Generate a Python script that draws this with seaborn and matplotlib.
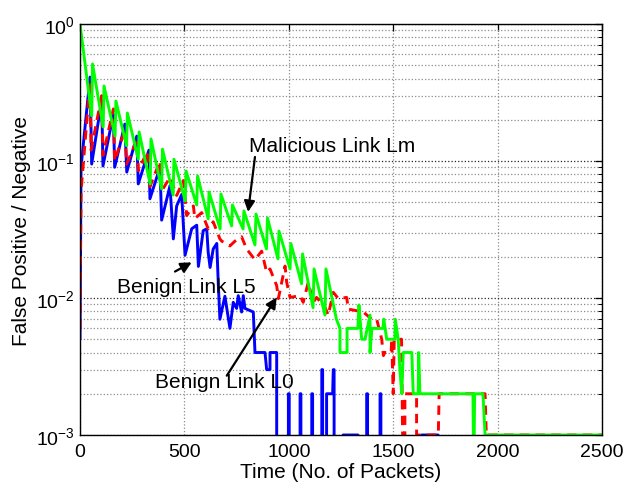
import matplotlib
matplotlib.use("Agg")
import matplotlib.pyplot as plt
import seaborn as sns
import pandas as pd
import numpy as np

# ---------------- data ----------------
# Malicious link Lm (green)
green_x = [0, 56, 60, 111, 115, 168, 172, 223, 227, 279,
           283, 336, 340, 391, 395, 446, 450, 504, 508, 559,
           563, 614, 618, 671, 675, 726, 730, 781, 785, 838,
           843, 893, 898, 948, 953, 1006, 1010, 1061, 1066, 1116,
           1121, 1173, 1178, 1228, 1245, 1245, 1279, 1279, 1331, 1336,
           1349, 1365, 1389, 1389, 1398, 1451, 1455, 1469, 1508, 1510,
           1524, 1532, 1541, 1548, 1589, 1596, 1620, 1622, 1628, 1882,
           1884, 1888, 1890, 1930, 1940, 2500]
green_y = [1.0, 0.213, 0.511, 0.177, 0.353, 0.152, 0.274, 0.129, 0.224, 0.103,
           0.163, 0.068, 0.145, 0.0625, 0.122, 0.0565, 0.103, 0.0511, 0.0845, 0.0478,
           0.0778, 0.0378, 0.0594, 0.0319, 0.0574, 0.0336, 0.0478, 0.0319, 0.0432, 0.0244,
           0.041, 0.0228, 0.0384, 0.0193, 0.0308, 0.0163, 0.025, 0.0127, 0.021, 0.0085,
           0.0163, 0.0075, 0.0163, 0.007, 0.006, 0.004, 0.004, 0.006, 0.006, 0.0089,
           0.005, 0.005, 0.0075, 0.004, 0.006, 0.006, 0.007, 0.005, 0.005, 0.007,
           0.005, 0.003, 0.002, 0.004, 0.004, 0.002, 0.002, 0.004, 0.002, 0.002,
           0.001, 0.001, 0.002, 0.002, 0.001, 0.001]

# Benign link L0 (red, dashed)
red_x = [0, 5, 48, 53, 104, 110, 160, 166, 215, 223,
         272, 280, 322, 335, 383, 390, 431, 463, 495, 511,
         543, 550, 583, 614, 638, 670, 679, 718, 742, 774,
         798, 838, 870, 894, 910, 942, 950, 982, 990, 1006,
         1054, 1069, 1093, 1117, 1133, 1173, 1189, 1213, 1237, 1277,
         1285, 1357, 1397, 1421, 1445, 1453, 1460, 1490, 1493, 1500,
         1505, 1540, 1545, 1556, 1556, 1612, 1612, 1716, 1720, 1940,
         1946, 2500]
red_y = [0.006, 0.06, 0.38, 0.12, 0.30, 0.11, 0.24, 0.10, 0.17, 0.095,
         0.14, 0.085, 0.118, 0.065, 0.100, 0.060, 0.076, 0.056, 0.072, 0.040,
         0.047, 0.038, 0.042, 0.032, 0.036, 0.027, 0.026, 0.024, 0.026, 0.028,
         0.0228, 0.019, 0.022, 0.0154, 0.0163, 0.0123, 0.0099, 0.0171, 0.013, 0.0101,
         0.0104, 0.0093, 0.013, 0.0093, 0.0101, 0.0086, 0.0075, 0.011, 0.0099, 0.0101,
         0.0083, 0.0079, 0.007, 0.007, 0.005, 0.0038, 0.004, 0.004, 0.005, 0.002,
         0.005, 0.005, 0.001, 0.001, 0.002, 0.002, 0.001, 0.001, 0.002, 0.002,
         0.001, 0.001]

# Benign link L5 (blue)
blue_x = [0, 5, 48, 56, 104, 110, 160, 166, 215, 224,
          272, 279, 330, 335, 383, 391, 431, 447, 463, 487,
          503, 535, 559, 567, 590, 607, 614, 623, 638, 655,
          662, 670, 694, 718, 734, 750, 758, 774, 782, 790,
          830, 838, 886, 894, 910, 910, 942, 944, 998, 998,
          1002, 1002, 1054, 1054, 1058, 1058, 1110, 1110, 1114, 1114,
          1158, 1158, 1162, 1162, 1181, 1181, 1210, 1213, 1217, 1217,
          1260, 1260, 1331, 1331, 1373, 1373, 1377, 1377, 1437, 1437,
          1441, 1441, 1636, 1636, 1715, 1715, 2500]
blue_y = [0.005, 0.09, 0.41, 0.095, 0.28, 0.092, 0.22, 0.09, 0.186, 0.083,
          0.152, 0.068, 0.12, 0.053, 0.09, 0.037, 0.066, 0.027, 0.047, 0.057,
          0.0205, 0.032, 0.034, 0.017, 0.031, 0.032, 0.0215, 0.0167, 0.0228, 0.025,
          0.013, 0.007, 0.0103, 0.006, 0.0093, 0.0084, 0.0104, 0.0079, 0.0104, 0.0084,
          0.0079, 0.004, 0.004, 0.003, 0.003, 0.004, 0.004, 0, 0, 0.002,
          0.002, 0, 0, 0.002, 0.002, 0, 0, 0.002, 0.002, 0,
          0, 0.003, 0.003, 0, 0, 0.002, 0.002, 0.003, 0.003, 0,
          0, 0.001, 0.001, 0, 0, 0.002, 0.002, 0, 0, 0.002,
          0.002, 0, 0, 0.001, 0.001, 0, 0]

x_ticks = [0, 500, 1000, 1500, 2000, 2500]
y_ticks = [1e-3, 1e-2, 1e-1, 1e0]

# annotation labels: (text, text anchor x, text anchor y, arrow tail x, tail y, head x, head y)
ann_lm = ("Malicious Link Lm", 810, 0.129, 838, 0.107, 805, 0.0425)
ann_l5 = ("Benign Link L5", 177, 0.0122, 455, 0.0156, 535, 0.0182)
ann_l0 = ("Benign Link L0", 359, 0.00244, 703, 0.00271, 942, 0.0101)

# ---------------- styling ----------------
sns.set_style("white")
plt.rcParams["font.family"] = ["Liberation Sans", "DejaVu Sans"]
plt.rcParams["mathtext.fontset"] = "custom"
plt.rcParams["mathtext.rm"] = "Liberation Sans"
plt.rcParams["mathtext.it"] = "Liberation Sans:italic"
plt.rcParams["mathtext.bf"] = "Liberation Sans:bold"
for key in ("text.color", "axes.labelcolor", "xtick.color", "ytick.color",
            "axes.edgecolor"):
    plt.rcParams[key] = "black"

fig = plt.figure(figsize=(6.28, 4.85), dpi=100)
ax = fig.add_axes([80 / 628, 1 - 436 / 485, 522 / 628, 411 / 485])

blue_df = pd.DataFrame({"x": blue_x, "y": blue_y})
red_df = pd.DataFrame({"x": red_x, "y": red_y})
green_df = pd.DataFrame({"x": green_x, "y": green_y})

sns.lineplot(data=blue_df, x="x", y="y", estimator=None, sort=False, ax=ax,
             color=(0, 0, 1), linewidth=2.1)
sns.lineplot(data=red_df, x="x", y="y", estimator=None, sort=False, ax=ax,
             color=(1, 0, 0), linewidth=2.1, linestyle=(0, (3.2, 2.2)))
sns.lineplot(data=green_df, x="x", y="y", estimator=None, sort=False, ax=ax,
             color=(0, 1, 0), linewidth=2.1)

ax.set_yscale("log")
ax.set_xlim(0, 2500)
ax.set_ylim(1e-3, 1)
ax.set_xticks(x_ticks)
ax.set_xticklabels([str(t) for t in x_ticks])
ax.set_yticks(y_ticks)

# grid (MATLAB-like dotted)
ax.xaxis.grid(True, which="major", linestyle=":", color="0.55", linewidth=0.9)
ax.yaxis.grid(True, which="major", linestyle=":", color="0.15", linewidth=0.9)
ax.yaxis.grid(True, which="minor", linestyle=":", color="0.55", linewidth=0.9)
ax.set_axisbelow(True)

ax.tick_params(axis="both", which="both", direction="in", top=True, right=True,
               colors="black", labelsize=14)
ax.tick_params(axis="both", which="major", length=5, width=0.9)
ax.tick_params(axis="y", which="minor", length=3, width=0.7)
ax.tick_params(axis="x", which="major", pad=6)
for s in ax.spines.values():
    s.set_color("black")
    s.set_linewidth(1.0)

ax.set_xlabel("Time (No. of Packets)", fontsize=15, labelpad=1, color="black")
ax.set_ylabel("False Positive / Negative", fontsize=15, labelpad=4, color="black")

for txt, tx, ty, ax0, ay0, hx, hy in (ann_lm, ann_l5, ann_l0):
    ax.text(tx, ty, txt, fontsize=15, ha="left", va="center", color="black")
    ax.annotate("", xy=(hx, hy), xytext=(ax0, ay0),
                arrowprops=dict(arrowstyle="-|>", color="black", lw=1.6,
                                mutation_scale=16, shrinkA=0, shrinkB=0))

fig.savefig("out.png", dpi=100)
